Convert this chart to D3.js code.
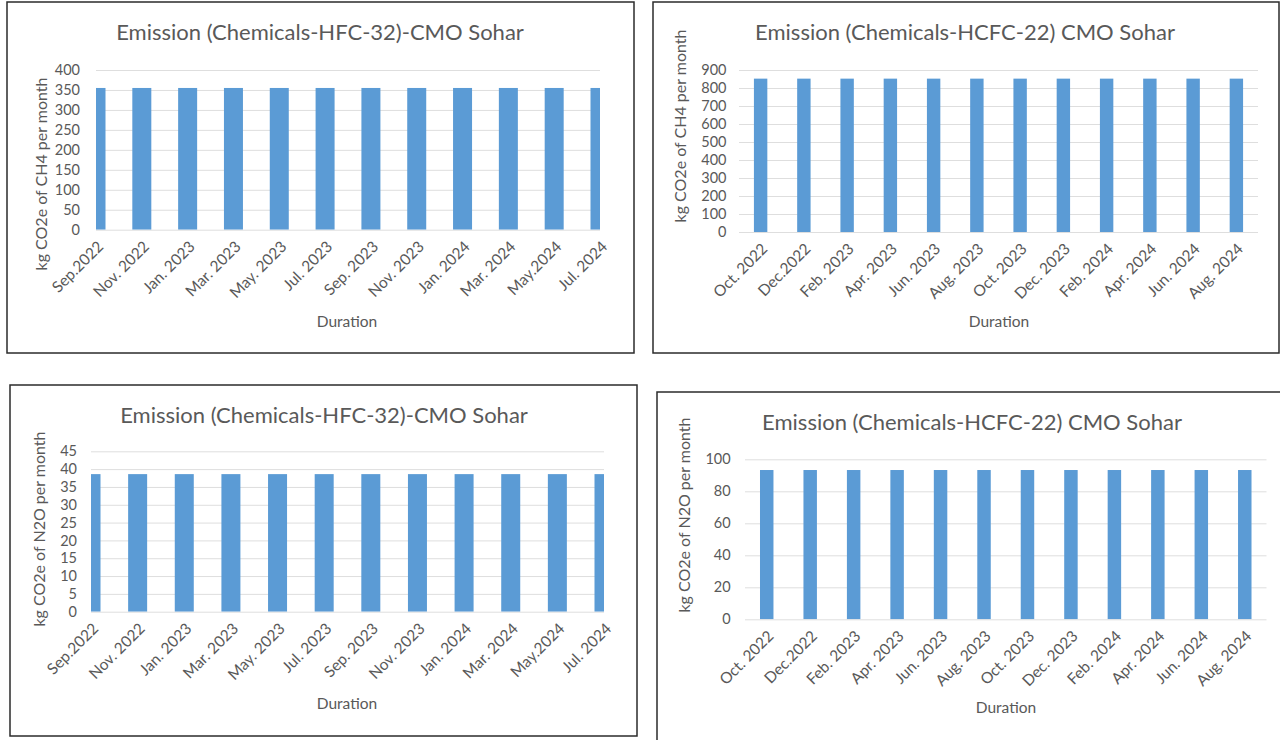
<!DOCTYPE html>
<html>
<head>
<meta charset="utf-8">
<script src="https://cdn.jsdelivr.net/npm/d3@7"></script>
<style>
  html, body { margin: 0; padding: 0; background: #ffffff; }
  svg { display: block; }
  text { font-family: Lato, "Open Sans", sans-serif; fill: #595959; }
</style>
</head>
<body>
<svg id="chart" width="1280" height="740"></svg>
<script>
// Reporting months (odd-month and even-month series)
const monthsOdd = ["Sep.2022", "Nov. 2022", "Jan. 2023", "Mar. 2023", "May. 2023", "Jul. 2023",
                   "Sep. 2023", "Nov. 2023", "Jan. 2024", "Mar. 2024", "May.2024", "Jul. 2024"];
const monthsEven = ["Oct. 2022", "Dec.2022", "Feb. 2023", "Apr. 2023", "Jun. 2023", "Aug. 2023",
                    "Oct. 2023", "Dec. 2023", "Feb. 2024", "Apr. 2024", "Jun. 2024", "Aug. 2024"];

// Monthly emissions, kg CO2e
const hfc32CH4 = [355, 355, 355, 355, 355, 355, 355, 355, 355, 355, 355, 355];
const hcfc22CH4 = [852, 852, 852, 852, 852, 852, 852, 852, 852, 852, 852, 852];
const hfc32N2O = [38.6, 38.6, 38.6, 38.6, 38.6, 38.6, 38.6, 38.6, 38.6, 38.6, 38.6, 38.6];
const hcfc22N2O = [93.3, 93.3, 93.3, 93.3, 93.3, 93.3, 93.3, 93.3, 93.3, 93.3, 93.3, 93.3];

// Y-axis tick values
const ticksHfc32CH4 = [0, 50, 100, 150, 200, 250, 300, 350, 400];
const ticksHcfc22CH4 = [0, 100, 200, 300, 400, 500, 600, 700, 800, 900];
const ticksHfc32N2O = [0, 5, 10, 15, 20, 25, 30, 35, 40, 45];
const ticksHcfc22N2O = [0, 20, 40, 60, 80, 100];

const titleHfc32 = "Emission (Chemicals-HFC-32)-CMO Sohar";
const titleHcfc22 = "Emission (Chemicals-HCFC-22) CMO Sohar";
const yTitleCH4 = "kg CO2e of CH4 per month";
const yTitleN2O = "kg CO2e of N2O per month";
const xTitle = "Duration";

const BAR = "#5b9bd5";
const GRID = "#dedede";
const FONT = "Lato, 'Open Sans', sans-serif";

const svg = d3.select("#chart");
svg.append("rect").attr("width", 1280).attr("height", 740).attr("fill", "#fff");

const defs = svg.append("defs");

function drawPanel(p, idx) {
  const g = svg.append("g");

  // frame
  g.append("rect")
    .attr("x", p.box[0]).attr("y", p.box[1])
    .attr("width", p.box[2] - p.box[0]).attr("height", p.box[3] - p.box[1])
    .attr("fill", "#fff").attr("stroke", "#2b2b2b").attr("stroke-width", 1.5);

  const x = p.dateAxis
    ? d3.scalePoint().domain(p.cats).range([p.left, p.right]).padding(0)
    : d3.scaleBand().domain(p.cats).range([p.left, p.right]).padding(0);
  const center = c => p.dateAxis ? x(c) : x(c) + x.bandwidth() / 2;
  const barW = p.dateAxis ? p.barWidth : x.bandwidth() * p.barFrac;

  const y = d3.scaleLinear().domain([0, d3.max(p.ticks)]).range([p.bottom, p.top]);

  // gridlines
  const yAxis = d3.axisLeft(y).tickValues(p.ticks).tickSize(-(p.right - p.left)).tickPadding(p.tickPad);
  const ya = g.append("g").attr("transform", `translate(${p.left},0)`).call(yAxis);
  ya.select(".domain").remove();
  ya.selectAll(".tick line").attr("stroke", GRID).attr("stroke-width", 1);
  ya.selectAll(".tick text").attr("font-size", 14.5).attr("fill", "#5f5f5f")
    .style("font-family", FONT);

  // bars, clipped to the plot area
  const clipId = "plotclip" + idx;
  defs.append("clipPath").attr("id", clipId).append("rect")
    .attr("x", p.left).attr("y", p.top - 5).attr("width", p.right - p.left).attr("height", p.bottom - p.top + 5);

  g.append("g").attr("clip-path", `url(#${clipId})`)
    .selectAll("rect").data(p.values).join("rect")
    .attr("x", (d, i) => center(p.cats[i]) - barW / 2)
    .attr("y", d => y(d))
    .attr("width", barW)
    .attr("height", d => y(0) - y(d))
    .attr("fill", BAR);

  // category labels
  const xAxis = d3.axisBottom(x).tickSize(0).tickPadding(0);
  const xa = g.append("g").attr("transform", `translate(0,${p.bottom})`).call(xAxis);
  xa.select(".domain").remove();
  xa.selectAll(".tick text")
    .attr("font-size", 15.5).attr("fill", "#5f5f5f")
    .style("font-family", FONT)
    .attr("text-anchor", "end")
    .attr("dy", "0.35em").attr("y", 0)
    .attr("transform", `translate(4,14) rotate(-45)`);

  // titles
  g.append("text").attr("x", p.titleX).attr("y", p.titleY)
    .attr("text-anchor", "middle").attr("font-size", 22).attr("fill", "#6a6a6a").text(p.title);

  g.append("text")
    .attr("transform", `translate(${p.yTitleX},${p.yTitleY}) rotate(-90)`)
    .attr("text-anchor", "middle").attr("dy", "0.35em").attr("font-size", 16).text(p.yTitle);

  g.append("text").attr("x", p.xTitleX).attr("y", p.xTitleY)
    .attr("text-anchor", "middle").attr("dy", "0.35em").attr("font-size", 15.5).text(xTitle);
}

const panels = [
  { box: [7, 2, 634, 353], left: 96, right: 600, top: 70, bottom: 229.7, tickPad: 16,
    cats: monthsOdd, values: hfc32CH4, ticks: ticksHfc32CH4, dateAxis: true, barWidth: 19,
    title: titleHfc32, titleX: 320, titleY: 40, yTitle: yTitleCH4, yTitleX: 41, yTitleY: 174,
    xTitleX: 347, xTitleY: 322 },
  { box: [653, 2, 1279, 353], left: 739, right: 1258, top: 70, bottom: 232, tickPad: 12.5,
    cats: monthsEven, values: hcfc22CH4, ticks: ticksHcfc22CH4, dateAxis: false, barFrac: 0.31,
    title: titleHcfc22, titleX: 965, titleY: 40, yTitle: yTitleCH4, yTitleX: 680, yTitleY: 126,
    xTitleX: 999, xTitleY: 322 },
  { box: [10, 385, 637, 736], left: 91, right: 604, top: 451.3, bottom: 611.7, tickPad: 14,
    cats: monthsOdd, values: hfc32N2O, ticks: ticksHfc32N2O, dateAxis: true, barWidth: 19,
    title: titleHfc32, titleX: 324, titleY: 423, yTitle: yTitleN2O, yTitleX: 39, yTitleY: 529,
    xTitleX: 347, xTitleY: 704 },
  { box: [657, 392, 1292, 745], left: 745, right: 1266.5, top: 459.3, bottom: 619.3, tickPad: 14.4,
    cats: monthsEven, values: hcfc22N2O, ticks: ticksHcfc22N2O, dateAxis: false, barFrac: 0.31,
    title: titleHcfc22, titleX: 972, titleY: 430, yTitle: yTitleN2O, yTitleX: 684, yTitleY: 515,
    xTitleX: 1006, xTitleY: 708 }
];

panels.forEach(drawPanel);
</script>
</body>
</html>
